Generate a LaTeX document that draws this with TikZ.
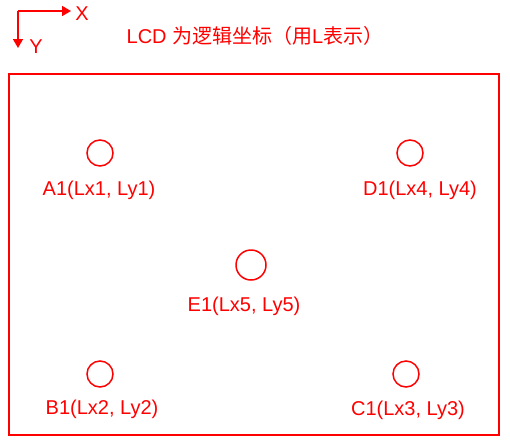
\documentclass[tikz,border=0pt]{standalone}
\usepackage{fontspec}
\setmainfont{Liberation Sans}
\newfontfamily\cjk{Noto Sans CJK SC}
\usetikzlibrary{arrows.meta}
\newcommand\lblfont{\fontsize{20}{24}\selectfont}
\tikzset{x=1pt,y=-1pt,
    every node/.style={text=red,font=\lblfont,inner sep=0pt},
    point/.style={draw=red,line width=1.5pt,circle,minimum size=26pt},
    ptlabel/.style={anchor=base},
    axis/.style={draw=red,line width=1.5pt,-{Triangle[length=9pt,width=10pt]}},
    }
\begin{document}
\begin{tikzpicture}
	\useasboundingbox (0,0) rectangle (510,442);
	% axes
	\coordinate (o) at (18,11);
	\coordinate (xend) at (71,11);
	\coordinate (yend) at (18,48);
	\draw[axis] (o) -- (xend);
	\draw[axis] (o) -- (yend);
	\node (xlbl) at (82,14) {X};
	\node (ylbl) at (36,47) {Y};
	% title
	\node (title) at (255,36) {LCD {\cjk 为逻辑坐标（用}L{\cjk 表示）}};
	% screen
	\draw[red,line width=2pt] (9,74) rectangle (499,435);
	% points
	\node[point] (a1) at (100,153) {};
	\node[point] (d1) at (410,153) {};
	\node[point,minimum size=30pt] (e1) at (251,265) {};
	\node[point] (b1) at (100,374) {};
	\node[point] (c1) at (406,374) {};
	\node[ptlabel] (a1lbl) at (99,195) {A1(Lx1, Ly1)};
	\node[ptlabel] (d1lbl) at (420,195) {D1(Lx4, Ly4)};
	\node[ptlabel] (e1lbl) at (244,311) {E1(Lx5, Ly5)};
	\node[ptlabel] (b1lbl) at (102,414) {B1(Lx2, Ly2)};
	\node[ptlabel] (c1lbl) at (408,415) {C1(Lx3, Ly3)};
\end{tikzpicture}
\end{document}
